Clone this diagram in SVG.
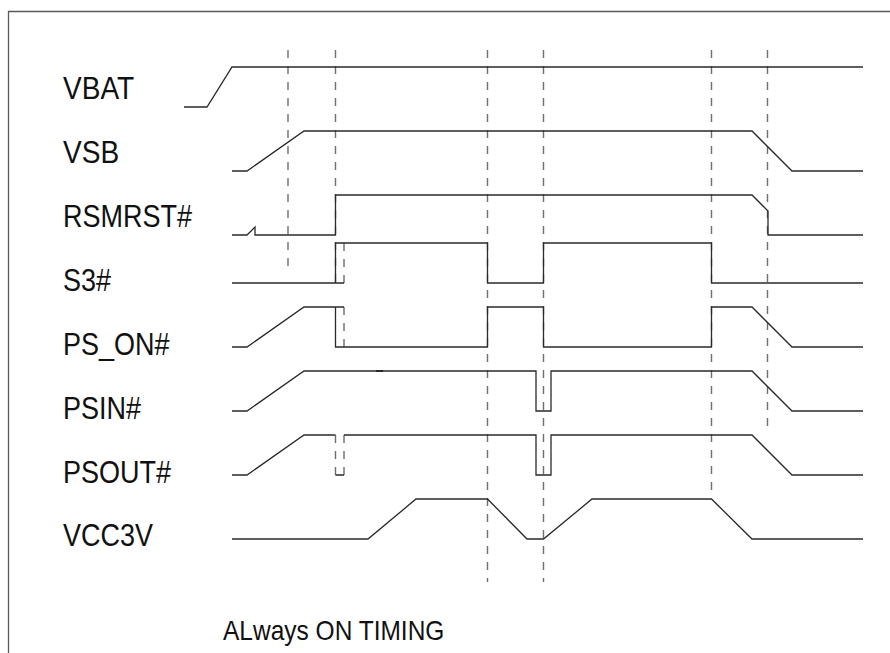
<svg xmlns="http://www.w3.org/2000/svg" width="890" height="653" viewBox="0 0 890 653">
<style>
.lbl{font-family:"Liberation Sans",Arial,sans-serif;font-size:27px;fill:#111}
.title{font-family:"Liberation Sans",Arial,sans-serif;font-size:24.5px;fill:#111}
.sig{fill:none;stroke:#2a2a2a;stroke-width:1.3}
.dash{fill:none;stroke:#6e6e6e;stroke-width:1.4;stroke-dasharray:8 8}
.frame{fill:none;stroke:#5a5a5a;stroke-width:1.3}
</style>
<rect width="890" height="653" fill="#fff"/>
<path class="frame" d="M8.5,653 V11.5 H890"/>
<g id="timing-markers">
<line class="dash" x1="288" y1="50" x2="288" y2="274"/>
<line class="dash" x1="335.5" y1="50" x2="335.5" y2="283"/>
<line class="dash" x1="344" y1="243" x2="344" y2="283"/>
<line class="dash" x1="344" y1="307" x2="344" y2="347"/>
<line class="dash" x1="335.5" y1="435" x2="335.5" y2="475"/>
<line class="dash" x1="344" y1="435" x2="344" y2="475"/>
<line class="dash" x1="487.5" y1="50" x2="487.5" y2="582"/>
<line class="dash" x1="543.5" y1="50" x2="543.5" y2="582"/>
<line class="dash" x1="711.5" y1="50" x2="711.5" y2="490"/>
<line class="dash" x1="767.5" y1="50" x2="767.5" y2="427"/>
</g>
<g id="VBAT">
<text class="lbl" transform="translate(63,99) scale(1.04,1.14)">VBAT</text>
<path class="sig" d="M184,107 H207 L232,67 H863"/>
</g>
<g id="VSB">
<text class="lbl" transform="translate(63,163) scale(1.04,1.14)">VSB</text>
<path class="sig" d="M232,171 H247 L304,131 H752 L792,171 H863"/>
</g>
<g id="RSMRST">
<text class="lbl" transform="translate(63,227) scale(1,1.14)">RSMRST#</text>
<path class="sig" d="M232,235 H247 L255,227 V235 H335.5 V195 H752 L768,211 V235 H863"/>
</g>
<g id="S3">
<text class="lbl" transform="translate(63,291) scale(1,1.14)">S3#</text>
<path class="sig" d="M232,283 H344 M335.5,283 V243 H487.5 V283 H543.5 V243 H711.5 V283 H863"/>
</g>
<g id="PS_ON">
<text class="lbl" transform="translate(63,355) scale(1,1.14)">PS_ON#</text>
<path class="sig" d="M232,347 H247 L304,307 H344 M335.5,307 V347 H487.5 V307 H543.5 V347 H711.5 V307 H752 L792,347 H863"/>
</g>
<g id="PSIN">
<text class="lbl" transform="translate(63,419) scale(1,1.14)">PSIN#</text>
<path class="sig" d="M232,411 H247 L304,371 H536 V411 H551 V371 H752 L792,411 H863"/>
<line x1="376" y1="371" x2="383" y2="371" stroke="#2a2a2a" stroke-width="2"/>
</g>
<g id="PSOUT">
<text class="lbl" transform="translate(63,483) scale(1,1.14)">PSOUT#</text>
<path class="sig" d="M232,475 H247 L304,435 H335.5 M335.5,475 H344 M344,435 H536 V475 H551 V435 H752 L792,475 H863"/>
</g>
<g id="VCC3V">
<text class="lbl" transform="translate(63,546) scale(1,1.14)">VCC3V</text>
<path class="sig" d="M232,539 H368 L416,499 H487.5 L527,539 H543.5 L592,499 H711.5 L752,539 H863"/>
</g>
<text class="title" transform="translate(223,640) scale(1,1.14)">ALways ON TIMING</text>
</svg>
